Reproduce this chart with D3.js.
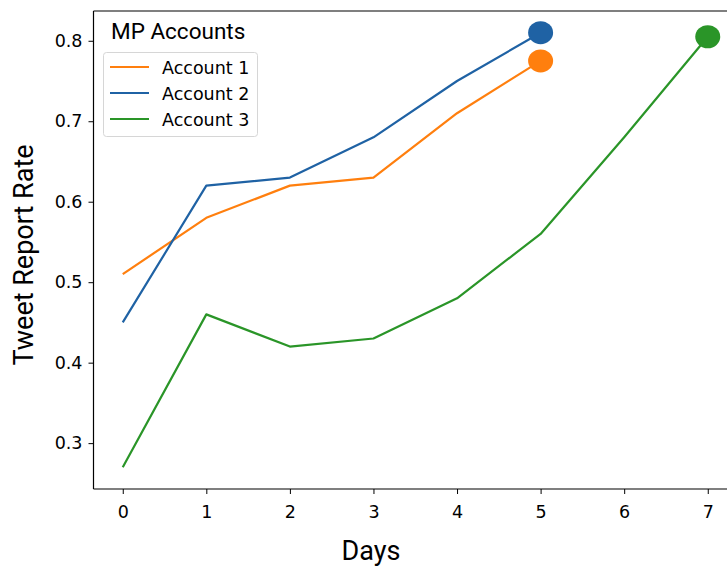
<!DOCTYPE html>
<html><head><meta charset="utf-8">
<script src="https://cdn.jsdelivr.net/npm/d3@7"></script>
<style>body{margin:0;background:#fff}svg{display:block}</style>
</head><body>
<svg id="c" width="727" height="567"></svg>
<script>
const days1 = [0,1,2,3,4,5];
const account1 = [0.51,0.58,0.62,0.63,0.71,0.775];
const days2 = [0,1,2,3,4,5];
const account2 = [0.45,0.62,0.63,0.68,0.75,0.81];
const days3 = [0,1,2,3,4,5,6,7];
const account3 = [0.27,0.46,0.42,0.43,0.48,0.56,0.68,0.805];
const seriesNames = ["Account 1","Account 2","Account 3"];
const colors = ["#ff7f0e","#1f62a4","#2a9528"];
const xTicks = [0,1,2,3,4,5,6,7];
const yTicks = [0.3,0.4,0.5,0.6,0.7,0.8];

const svg = d3.select("#c");
const L=93.5, R=737, T=11, B=489;
const x = d3.scaleLinear().domain([-0.35,7.35]).range([L,R]);
const y = d3.scaleLinear().domain([0.243,0.837]).range([B,T]);

const series = [
  {name:seriesNames[0], xs:days1, ys:account1, c:colors[0]},
  {name:seriesNames[1], xs:days2, ys:account2, c:colors[1]},
  {name:seriesNames[2], xs:days3, ys:account3, c:colors[2]}
];
const line = d3.line().x(d=>x(d[0])).y(d=>y(d[1]));
series.forEach(s=>{
  const pts = s.xs.map((v,i)=>[v,s.ys[i]]);
  svg.append("path").attr("d",line(pts)).attr("fill","none")
    .attr("stroke",s.c).attr("stroke-width",2.2).attr("stroke-linejoin","round");
});
series.forEach(s=>{
  const n=s.xs.length-1;
  svg.append("ellipse").attr("cx",x(s.xs[n])).attr("cy",y(s.ys[n]))
    .attr("rx",12.5).attr("ry",11.5).attr("fill",s.c);
});

// axes
const xa = svg.append("g").attr("transform",`translate(0,${B})`)
  .call(d3.axisBottom(x).tickValues(xTicks).tickSize(5).tickPadding(5).tickFormat(d3.format("d")));
const ya = svg.append("g").attr("transform",`translate(${L},0)`)
  .call(d3.axisLeft(y).tickValues(yTicks).tickSize(5).tickPadding(6).tickFormat(d3.format(".1f")));
[xa,ya].forEach(g=>{
  g.select(".domain").remove();
  g.selectAll("line").attr("stroke","#000").attr("stroke-width",1);
  g.selectAll("text").attr("font-family","DejaVu Sans").attr("font-size",17.5).attr("fill","#000");
});
xa.selectAll("text").attr("dy",null).attr("y",null).attr("transform","translate(0,29)");
// spines
svg.append("line").attr("x1",L).attr("x2",L).attr("y1",T).attr("y2",B).attr("stroke","#000").attr("stroke-width",1.2);
svg.append("line").attr("x1",L).attr("x2",R).attr("y1",B).attr("y2",B).attr("stroke","#000").attr("stroke-width",1.2);
svg.append("line").attr("x1",L).attr("x2",R).attr("y1",T).attr("y2",T).attr("stroke","#000").attr("stroke-width",1.2);

// labels
svg.append("text").attr("x",371).attr("y",560).attr("text-anchor","middle")
  .attr("font-family","Roboto").attr("font-size",27).text("Days");
svg.append("text").attr("transform","translate(33,255) rotate(-90)").attr("text-anchor","middle")
  .attr("font-family","Roboto").attr("font-size",27).text("Tweet Report Rate");

// legend
svg.append("text").attr("x",111).attr("y",38.5).attr("font-family","Roboto").attr("font-size",22.5).text("MP Accounts");
svg.append("rect").attr("x",103.5).attr("y",52.5).attr("width",154).attr("height",84).attr("rx",3)
  .attr("fill","#fff").attr("fill-opacity",0.8).attr("stroke","#d6d6d6");
series.forEach((s,i)=>{
  const yy = 67 + i*26;
  svg.append("line").attr("x1",110).attr("x2",149).attr("y1",yy).attr("y2",yy).attr("stroke",s.c).attr("stroke-width",2.2);
  svg.append("text").attr("x",162).attr("y",yy+6.5).attr("font-family","DejaVu Sans").attr("font-size",17.5).text(s.name);
});
</script>
</body></html>
